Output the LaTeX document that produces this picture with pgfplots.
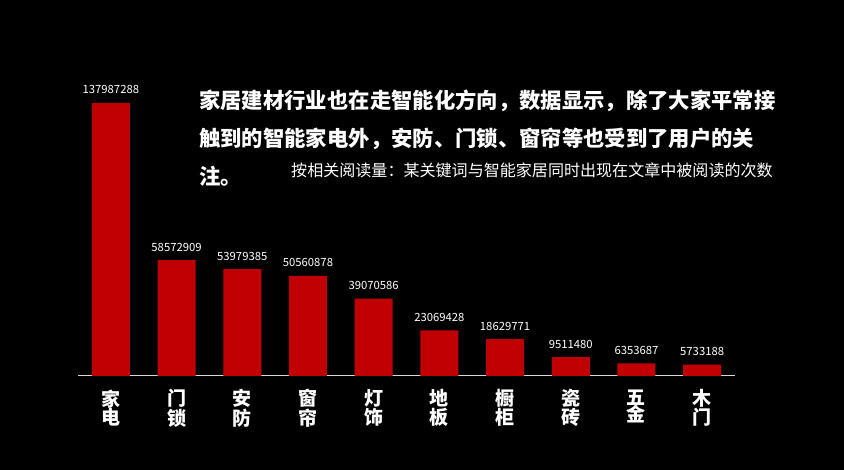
\documentclass[border=0pt]{standalone}
\usepackage{fontspec}
\setmainfont{Noto Sans CJK SC}
\usepackage{pgfplots}
\pgfplotsset{compat=1.18}
\definecolor{barred}{HTML}{C00000}
\begin{document}
\begin{tikzpicture}[x=1pt,y=1pt]
\fill[black] (0,0) rectangle (844,470);
\useasboundingbox (0,0) rectangle (844,470);
\begin{axis}[
  at={(78pt,94pt)}, anchor=south west,
  scale only axis, width=657pt, height=296.77pt,
  xmin=-0.5, xmax=9.5, ymin=0, ymax=150000000,
  ybar, bar width=38pt,
  axis x line*=bottom, hide y axis,
  x axis line style={draw=white!85!black, line width=1pt, -},
  xtick={0,...,9}, major tick length=0pt,
  xticklabels={{家\\电},{门\\锁},{安\\防},{窗\\帘},{灯\\饰},{地\\板},{橱\\柜},{瓷\\砖},{五\\金},{木\\门}},
  xticklabel style={align=center, text=white, font=\fontsize{19}{17.5}\selectfont\bfseries, anchor=north, yshift=-10pt},
  point meta=explicit symbolic,
  nodes near coords={\pgfplotspointmeta},
  every node near coord/.append style={anchor=base, yshift=9pt, text=white, font=\fontsize{11.3}{12}\selectfont},
  clip=false,
]
\addplot[fill=barred, draw=none] coordinates {
 (0,137987288) [137987288]
 (1,58572909) [58572909]
 (2,53979385) [53979385]
 (3,50560878) [50560878]
 (4,39070586) [39070586]
 (5,23069428) [23069428]
 (6,18629771) [18629771]
 (7,9511480) [9511480]
 (8,6353687) [6353687]
 (9,5733188) [5733188]
};
\end{axis}
\node[anchor=base west, text=white, inner sep=0, font=\fontsize{21.35}{21}\selectfont\bfseries] at (199,361) {家居建材行业也在走智能化方向，数据显示，除了大家平常接};
\node[anchor=base west, text=white, inner sep=0, font=\fontsize{21.35}{21}\selectfont\bfseries] at (199,323) {触到的智能家电外，安防、门锁、窗帘等也受到了用户的关};
\node[anchor=base west, text=white, inner sep=0, font=\fontsize{21.35}{21}\selectfont\bfseries] at (199,285) {注。};
\node[anchor=base west, text=white, inner sep=0, font=\fontsize{16.05}{16}\selectfont] at (291,293) {按相关阅读量：某关键词与智能家居同时出现在文章中被阅读的次数};
\end{tikzpicture}
\end{document}
